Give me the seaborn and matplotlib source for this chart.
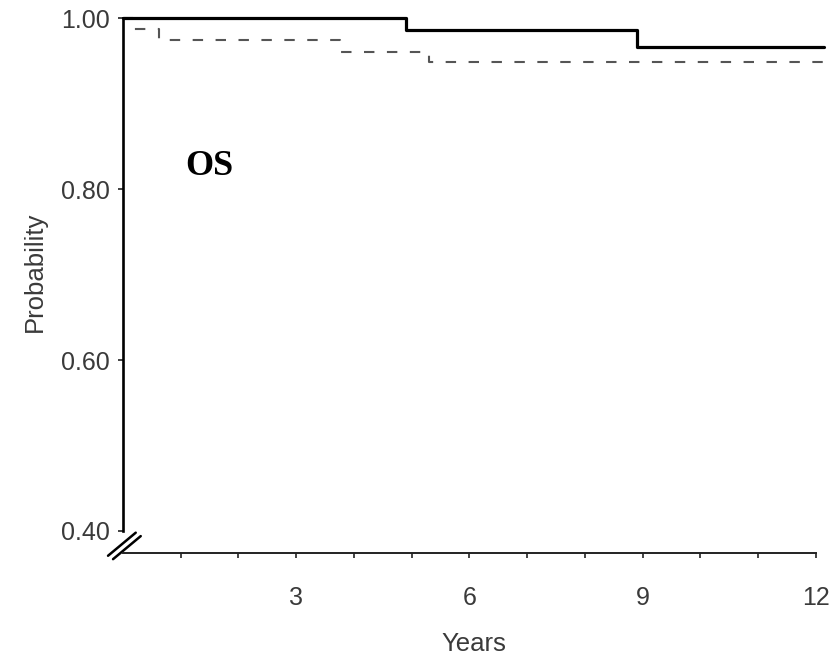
import pandas as pd
import seaborn as sns
import matplotlib.pyplot as plt

# Kaplan-Meier style step curves (years, survival probability)
solid_years = [0.0, 4.9, 8.9, 12.15]
solid_prob = [1.000, 0.986, 0.966, 0.966]

dashed_years = [0.0, 0.18, 0.62, 3.75, 5.3, 12.15]
dashed_prob = [1.000, 0.987, 0.974, 0.960, 0.949, 0.949]

y_ticks = [0.40, 0.60, 0.80, 1.00]
x_ticks = [3, 6, 9, 12]

sns.set_style("ticks")
plt.rcParams['font.family'] = ['Liberation Sans', 'DejaVu Sans']

fig = plt.figure(figsize=(8.37, 6.57), dpi=100)
ax = fig.add_axes([0.147, 0.158, 0.838, 0.821])

solid = pd.DataFrame({'years': solid_years, 'prob': solid_prob})
dashed = pd.DataFrame({'years': dashed_years, 'prob': dashed_prob})

sns.lineplot(data=dashed, x='years', y='prob', ax=ax, color='#555555',
             linewidth=1.5, drawstyle='steps-post', dashes=False,
             linestyle=(0, (5, 6)), clip_on=False)
sns.lineplot(data=solid, x='years', y='prob', ax=ax, color='black',
             linewidth=2.3, drawstyle='steps-post', clip_on=False)

ax.set_xlim(0, 12.15)
ax.set_ylim(0.374, 1.005)

ax.spines['top'].set_visible(False)
ax.spines['right'].set_visible(False)
ax.spines['left'].set_bounds(0.40, 1.00)
ax.spines['bottom'].set_bounds(0, 12)
ax.spines['left'].set_linewidth(1.9)
ax.spines['left'].set_color('black')
ax.spines['bottom'].set_linewidth(1.4)
ax.spines['bottom'].set_color('#222222')

ax.set_yticks(y_ticks)
ax.set_yticklabels([f'{v:.2f}' for v in y_ticks])
ax.set_xticks(x_ticks)
ax.set_xticks(range(1, 13), minor=True)
ax.tick_params(axis='both', which='both', length=3.5, width=1.2,
               color='#222222', labelsize=18, labelcolor='#3a3a3a')
ax.tick_params(axis='x', which='major', pad=20)
ax.tick_params(axis='y', pad=6)

ax.set_xlabel('Years', fontsize=18.5, color='#3a3a3a', labelpad=16)
ax.set_ylabel('Probability', fontsize=18.5, color='#3a3a3a', labelpad=10)
ax.yaxis.set_label_coords(-0.108, 0.521)

# axis break marks at the lower left corner
for dx in (0, 5):
    ax.plot([-0.26 + dx / 57.7, 0.22 + dx / 57.7],
            [0.371 - dx * 0.0008, 0.398 - dx * 0.0008],
            color='black', linewidth=1.8, clip_on=False)

ax.text(1.07, 0.816, 'OS', fontsize=26, fontweight='bold',
        family=['Liberation Serif', 'DejaVu Serif'], color='black')

fig.savefig('out.png', dpi=100)
